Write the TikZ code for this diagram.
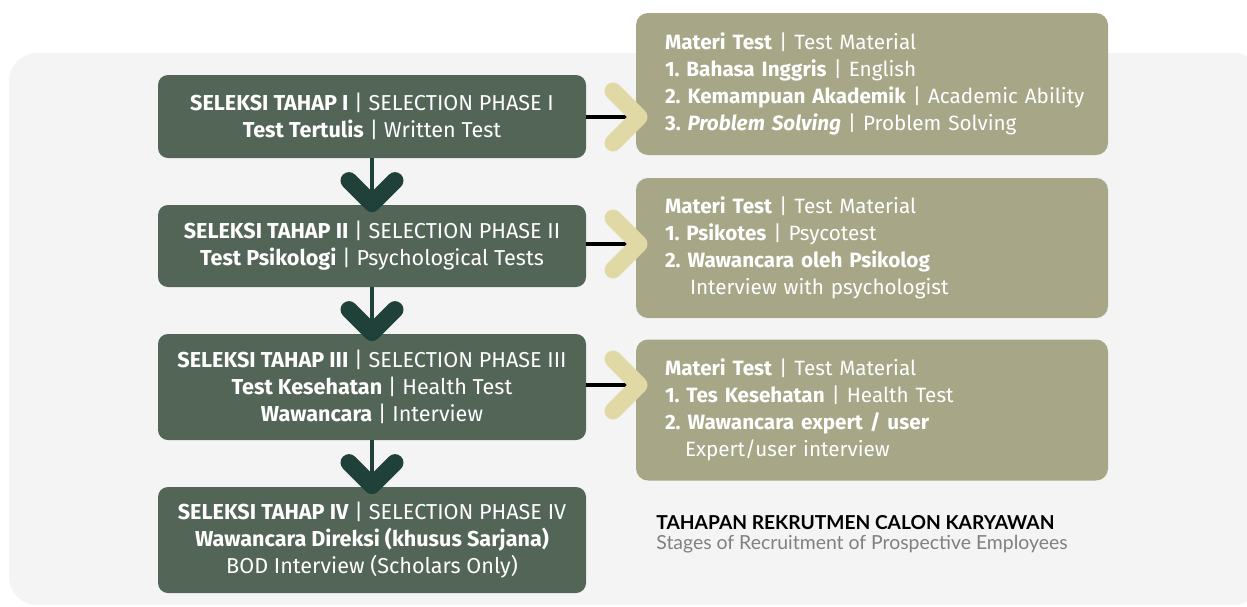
\documentclass[tikz,border=0pt]{standalone}
\usepackage{fontspec}
\setmainfont{Fira Sans}
\newfontfamily\titlefont{Lato}
\usetikzlibrary{positioning}
\definecolor{bggray}{HTML}{F4F4F4}
\definecolor{phasegreen}{HTML}{536556}
\definecolor{matolive}{HTML}{A7A788}
\definecolor{chevyellow}{HTML}{E0D9A6}
\definecolor{darkgreen}{HTML}{1F4139}
\definecolor{subgray}{HTML}{808080}
\frenchspacing

\begin{document}
\begin{tikzpicture}[
  x=0.5pt,y=-0.5pt,
  phase/.style={fill=phasegreen,rounded corners=5pt,minimum width=214pt,
                text=white,align=center,inner sep=0pt,
                font=\fontsize{10.8}{13.5}\selectfont},
  mat/.style={fill=matolive,rounded corners=6pt,minimum width=236pt,
              minimum height=71pt,text width=207pt,inner xsep=14.5pt,
              text=white,align=left,font=\fontsize{10.35}{13.4}\selectfont},
  link/.style={line width=2pt,black},
  chev/.style={chevyellow,line width=8.5pt,line cap=round,line join=round},
  down/.style={darkgreen,line width=2pt},
  vchev/.style={darkgreen,line width=8.5pt,line cap=round,line join=round}
]
\useasboundingbox (0,0) rectangle (1247,606);
\fill[bggray,rounded corners=14pt] (9,53) rectangle (1262,605);

% selection phases
\node[phase,minimum height=41.5pt] (p1) at (372,116.5)
  {\textbf{SELEKSI TAHAP I} | SELECTION PHASE I\\
   \textbf{Test Tertulis} | Written Test};
\node[phase,minimum height=41pt] (p2) at (372,246)
  {\textbf{SELEKSI TAHAP II} | SELECTION PHASE II\\
   \textbf{Test Psikologi} | Psychological Tests};
\node[phase,minimum height=53pt] (p3) at (372,387)
  {\textbf{SELEKSI TAHAP III} | SELECTION PHASE III\\
   \textbf{Test Kesehatan} | Health Test\\
   \textbf{Wawancara} | Interview};
\node[phase,minimum height=53pt] (p4) at (372,540)
  {\textbf{SELEKSI TAHAP IV} | SELECTION PHASE IV\\
   \textbf{Wawancara Direksi (khusus Sarjana)}\\
   BOD Interview (Scholars Only)};

% test material
\node[mat] (m1) at (872,84)
  {\textbf{Materi Test} | Test Material\\
   \textbf{1. Bahasa Inggris} | English\\
   \mbox{\textbf{2. Kemampuan Akademik} | Academic Ability}\\
   \textbf{3. \textit{Problem Solving}} | Problem Solving};
\node[mat,minimum height=70pt] (m2) at (872,248)
  {\textbf{Materi Test} | Test Material\\
   \textbf{1. Psikotes} | Psycotest\\
   \textbf{2. Wawancara oleh Psikolog}\\
   \hspace*{12.5pt}Interview with psychologist};
\node[mat,minimum height=70.5pt] (m3) at (872,410)
  {\textbf{Materi Test} | Test Material\\
   \textbf{1. Tes Kesehatan} | Health Test\\
   \textbf{2. Wawancara expert / user}\\
   \hspace*{10pt}Expert/user interview};

% links to the material boxes
\coordinate (c1) at (639,117);
\coordinate (c2) at (639,244);
\coordinate (c3) at (639,385);
\foreach \c in {1,2,3}{
  \draw[link] (c\c -| p\c.east) -- (c\c);
  \draw[chev] ([xshift=-13pt,yshift=13pt]c\c) -- (c\c)
              -- ([xshift=-13pt,yshift=-13pt]c\c);
}

% flow downwards
\foreach \a/\b in {p1/p2,p2/p3,p3/p4}{
  \draw[down] (\a.south) -- (\b.north);
  \draw[vchev] ([xshift=-11.5pt,yshift=12pt]\b.north) -- ([yshift=0.5pt]\b.north)
               -- ([xshift=11.5pt,yshift=12pt]\b.north);
}

% caption
\node[anchor=west,inner sep=0pt,font=\titlefont\bfseries\fontsize{9.6}{10}\selectfont]
  (cap) at (656,523) {TAHAPAN REKRUTMEN CALON KARYAWAN};
\node[anchor=west,inner sep=0pt,text=subgray,font=\titlefont\fontsize{9.7}{10}\selectfont]
  (sub) at (656,544) {Stages of Recruitment of Prospective Employees};
\end{tikzpicture}
\end{document}
